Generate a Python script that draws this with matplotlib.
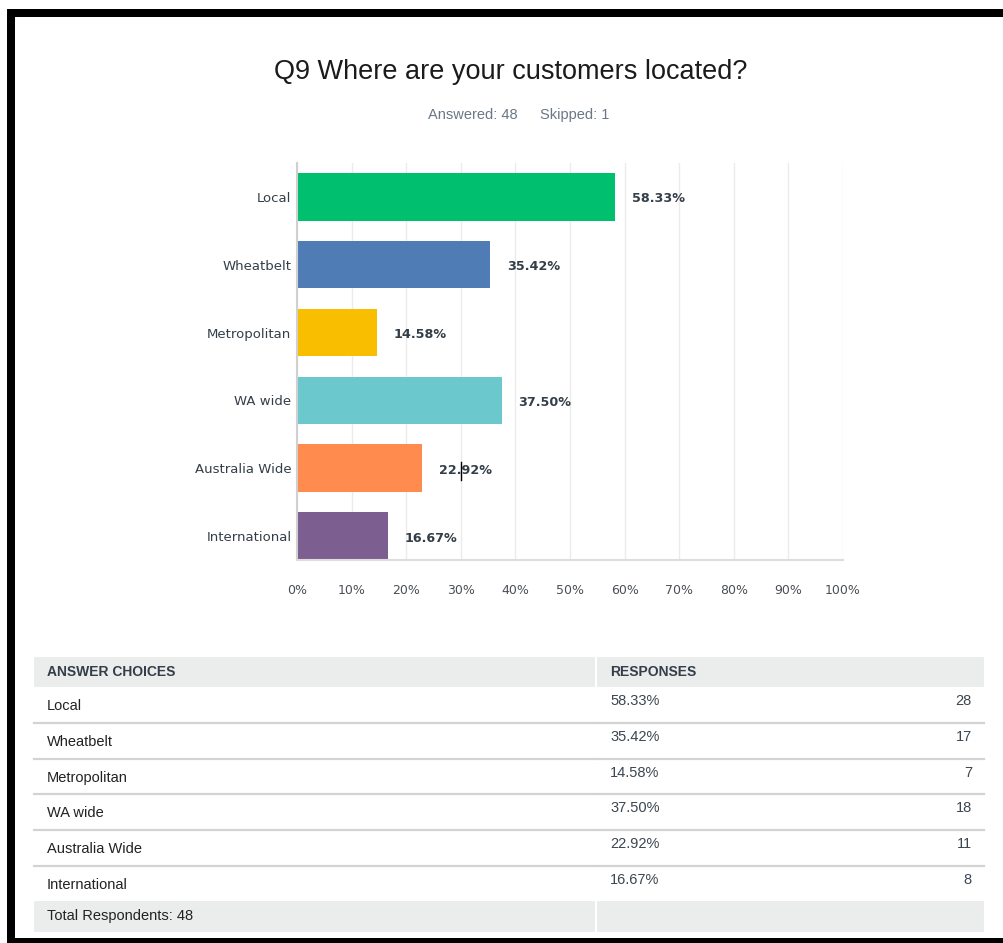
import matplotlib.pyplot as plt
from matplotlib.patches import Rectangle

# survey answers
choices = ["Local", "Wheatbelt", "Metropolitan", "WA wide", "Australia Wide", "International"]
pcts = [58.33, 35.42, 14.58, 37.50, 22.92, 16.67]
counts = [28, 17, 7, 18, 11, 8]
colors = ["#00bf6f", "#507cb6", "#f9be00", "#6bc8cd", "#ff8b4f", "#7d5e90"]
xticks = [0, 10, 20, 30, 40, 50, 60, 70, 80, 90, 100]
answered = 48
skipped = 1

W, H = 1004, 943
dark = "#333e48"

fig = plt.figure(figsize=(W / 100, H / 100), dpi=100)

# full-figure overlay in pixel units (y down) for frame, titles and table
bg = fig.add_axes([0, 0, 1, 1])
bg.set_xlim(0, W)
bg.set_ylim(H, 0)
bg.axis("off")

# black frame
bg.add_patch(Rectangle((7, 9), W - 7, 8, color="black", lw=0))
bg.add_patch(Rectangle((7, 9), 8, H - 9, color="black", lw=0))
bg.add_patch(Rectangle((7, 938), W - 7, 5, color="black", lw=0))

bg.text(511, 72, "Q9 Where are your customers located?", ha="center", va="center",
        fontsize=19.5, family="Liberation Sans", color="#1b1b1b")
bg.text(518, 115, f"Answered: {answered}", ha="right", va="center",
        fontsize=10.5, family="Liberation Sans", color="#6b7785")
bg.text(540, 115, f"Skipped: {skipped}", ha="left", va="center",
        fontsize=10.5, family="Liberation Sans", color="#6b7785")

# bar chart
ax = fig.add_axes([297 / W, (H - 560) / H, 546 / W, 397 / H])
ax.patch.set_alpha(0)
ypos = list(range(len(choices)))
ax.barh(ypos, pcts, height=0.7, color=colors, zorder=2)
ax.set_ylim(5.354, -0.5)
ax.set_xlim(0, 100)
ax.set_xticks(xticks)
ax.set_xticklabels([f"{t}%" for t in xticks], fontsize=9, color="#4a4f55")
ax.set_yticks(ypos)
ax.set_yticklabels(choices, fontsize=9.5, color=dark)
ax.tick_params(length=0)
ax.tick_params(axis="x", pad=17)
ax.tick_params(axis="y", pad=4)
ax.grid(axis="x", color="#ebebeb", lw=1, zorder=0)
for s in ["top", "right"]:
    ax.spines[s].set_visible(False)
ax.spines["left"].set_color("#d0d0d0")
ax.spines["left"].set_linewidth(1.5)
ax.spines["bottom"].set_color("#dddddd")
ax.spines["bottom"].set_linewidth(1.5)
for y, v in zip(ypos, pcts):
    ax.annotate(f"{v:.2f}%", (v, y), xytext=(12, -1.5), textcoords="offset points",
                ha="left", va="center", fontsize=9.2, fontweight="bold", color=dark)

# text cursor left over on the chart
fig.add_artist(plt.Line2D([461 / W, 461 / W], [1 - 462 / H, 1 - 480 / H],
                          color="black", lw=1, zorder=10))

# results table
tx0, tsplit, tx1 = 34, 597, 984
gray = "#ebecec"
bg.add_patch(Rectangle((tx0, 657), tsplit - 2 - tx0, 30, color=gray, lw=0))
bg.add_patch(Rectangle((tsplit, 657), tx1 - tsplit, 30, color=gray, lw=0))
bg.text(47, 672, "ANSWER CHOICES", ha="left", va="center", fontsize=10,
        fontweight="bold", family="Liberation Sans", color=dark)
bg.text(610, 672, "RESPONSES", ha="left", va="center", fontsize=10,
        fontweight="bold", family="Liberation Sans", color=dark)

row_top = 687
row_h = 35.8
for i, (c, p, n) in enumerate(zip(choices, pcts, counts)):
    top = row_top + i * row_h
    bg.text(47, top + 19, c, ha="left", va="center", fontsize=10.5,
            family="Liberation Sans", color="#222222")
    bg.text(610, top + 14, f"{p:.2f}%", ha="left", va="center", fontsize=10.5,
            family="Liberation Sans", color="#3b4650")
    bg.text(972, top + 14, str(n), ha="right", va="center", fontsize=10.5,
            family="Liberation Sans", color="#3b4650")
    if i < len(choices) - 1:
        ly = top + row_h
        bg.plot([tx0, tsplit - 2], [ly, ly], color="#d3d3d3", lw=1.6)
        bg.plot([tsplit, tx1], [ly, ly], color="#d3d3d3", lw=1.6)

bg.add_patch(Rectangle((tx0, 901), tsplit - 2 - tx0, 31, color=gray, lw=0))
bg.add_patch(Rectangle((tsplit, 901), tx1 - tsplit, 31, color=gray, lw=0))
bg.text(47, 916, f"Total Respondents: {answered}", ha="left", va="center",
        fontsize=10.5, family="Liberation Sans", color="#222222")

fig.savefig("out.png", dpi=100)
